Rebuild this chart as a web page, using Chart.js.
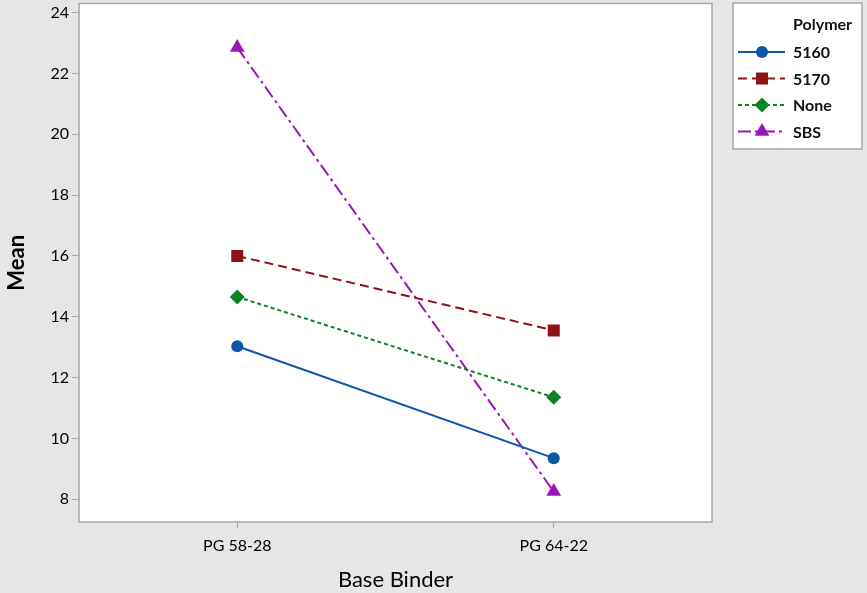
<!DOCTYPE html>
<html>
<head>
<meta charset="utf-8">
<script src="https://cdn.jsdelivr.net/npm/chart.js@4"></script>
<style>
  html, body { margin: 0; padding: 0; background: #e6e6e6; overflow: hidden; }
  canvas { display: block; margin-top: -5px; }
</style>
</head>
<body>
<canvas id="chart" width="867" height="598"></canvas>
<script>
const binders = ["PG 58-28", "PG 64-22"]
const yTicks = [8, 10, 12, 14, 16, 18, 20, 22, 24]

const mean5160 = [13.03, 9.35]
const mean5170 = [16.0, 13.55]
const meanNone = [14.65, 11.35]
const meanSBS = [22.85, 8.25]

const fontFamily = "Lato, 'Open Sans', sans-serif"
const tickFont = { family: fontFamily, size: 16 }
const shift = 5 // canvas is pulled up by this much

// white plot area with grey frame
const plotFrame = {
  id: "plotFrame",
  beforeDraw(chart) {
    const { ctx, chartArea: a } = chart
    ctx.save()
    ctx.fillStyle = "#ffffff"
    ctx.fillRect(a.left, a.top, a.right - a.left, a.bottom - a.top)
    ctx.restore()
  },
  beforeDatasetsDraw(chart) {
    const { ctx, chartArea: a } = chart
    ctx.save()
    ctx.strokeStyle = "#a6a6a6"
    ctx.lineWidth = 1.5
    ctx.strokeRect(a.left, a.top, a.right - a.left, a.bottom - a.top)
    ctx.restore()
  }
}

// Minitab style legend: line sample with marker in the middle
const sideLegend = {
  id: "sideLegend",
  afterDraw(chart) {
    const ctx = chart.ctx
    ctx.save()
    ctx.translate(0, shift)
    ctx.fillStyle = "#ffffff"
    ctx.fillRect(733, 3, 129, 146)
    ctx.strokeStyle = "#a6a6a6"
    ctx.lineWidth = 1.5
    ctx.strokeRect(733, 3, 129, 146)

    ctx.fillStyle = "#111"
    ctx.textBaseline = "middle"
    ctx.font = "bold 16px " + fontFamily
    ctx.fillText("Polymer", 793, 25)

    chart.data.datasets.forEach((ds, i) => {
      const y = 52 + i * 26.5
      ctx.strokeStyle = ds.borderColor
      ctx.lineWidth = ds.borderWidth
      ctx.setLineDash(ds.borderDash || [])
      ctx.beginPath()
      ctx.moveTo(738, y)
      ctx.lineTo(785, y)
      ctx.stroke()
      ctx.setLineDash([])
      ctx.fillStyle = ds.pointBackgroundColor
      ctx.strokeStyle = ds.pointBackgroundColor
      Chart.helpers.drawPoint(ctx, {
        pointStyle: ds.pointStyle, radius: ds.pointRadius, rotation: 0, borderWidth: 0
      }, 762, y)
      ctx.fillStyle = "#111"
      ctx.fillText(ds.label, 793, y + 1)
    })
    ctx.restore()
  }
}

function series(label, data, color, dash, style, radius) {
  return {
    label, data,
    borderColor: color,
    backgroundColor: color,
    pointBackgroundColor: color,
    pointBorderColor: color,
    pointBorderWidth: 0,
    borderWidth: 2,
    borderDash: dash,
    pointStyle: style,
    pointRadius: radius,
    pointHoverRadius: radius,
    tension: 0
  }
}

new Chart(document.getElementById("chart"), {
  type: "line",
  data: {
    labels: binders,
    datasets: [
      series("5160", mean5160, "#0b57a8", [], "circle", 6),
      series("5170", mean5170, "#8e1216", [9, 5], "rect", 8.5),
      series("None", meanNone, "#0a8324", [4, 3], "rectRot", 7.5),
      series("SBS", meanSBS, "#9a16b8", [13, 4, 3, 4], "triangle", 8.5)
    ]
  },
  plugins: [plotFrame, sideLegend],
  options: {
    responsive: false,
    animation: false,
    layout: { padding: { left: 0, top: 0, right: 155, bottom: 0 } },
    plugins: { legend: { display: false }, tooltip: { enabled: false } },
    scales: {
      x: {
        type: "category",
        offset: true,
        afterFit: s => { s.height = 71 },
        grid: { drawOnChartArea: false, offset: false, color: "#a6a6a6", tickLength: 6 },
        border: { display: false },
        ticks: { color: "#000", font: tickFont, padding: 8, maxRotation: 0 },
        title: {
          display: true, text: "Base Binder", color: "#000",
          font: { family: fontFamily, size: 22 },
          padding: { top: 0, bottom: 0 }
        }
      },
      y: {
        min: 7.25,
        max: 24.3,
        afterFit: s => { s.width = 79; s.paddingTop = 0; s.paddingBottom = 0 },
        afterBuildTicks: s => { s.ticks = yTicks.map(v => ({ value: v })) },
        grid: { drawOnChartArea: false, color: "#a6a6a6", tickLength: 7 },
        border: { display: false },
        ticks: { color: "#000", font: tickFont, padding: 3 },
        title: {
          display: true, text: "Mean", color: "#000",
          font: { family: fontFamily, size: 22, weight: "bold" },
          padding: { top: 4, bottom: 0 }
        }
      }
    }
  }
})
</script>
</body>
</html>
